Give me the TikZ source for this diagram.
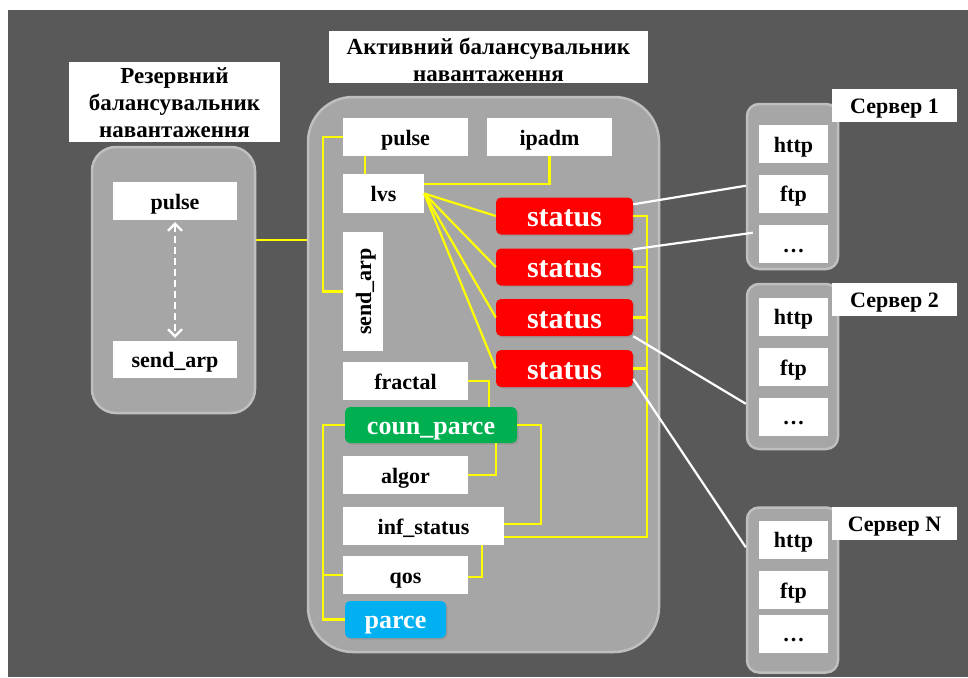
\documentclass[tikz,border=0pt]{standalone}
\usepackage{fontspec}
\setmainfont{Liberation Serif}
\usetikzlibrary{arrows.meta,calc,shadows}

\definecolor{bgdark}{HTML}{595959}
\definecolor{panel}{HTML}{A6A6A6}
\definecolor{panelrim}{HTML}{BFBFBF}
\definecolor{linkyellow}{HTML}{FFFF00}
\definecolor{statred}{HTML}{FF0000}
\definecolor{pgreen}{HTML}{00B050}
\definecolor{pblue}{HTML}{00B0F0}

\begin{document}
\begin{tikzpicture}[x=1pt,y=-1pt,
  sz/.style 2 args={minimum width=#1, minimum height=#2},
  panelbox/.style={fill=panel, draw=panelrim, line width=2.5pt, inner sep=0pt},
  boxfont/.style={font=\bfseries\fontsize{22}{26}\selectfont,
    text height=17pt, text depth=1pt},
  wbox/.style={boxfont, fill=white, inner sep=0pt, text=black},
  titlebox/.style={fill=white, inner sep=0pt},
  titletext/.style={inner sep=0pt, text=black, align=center,
    font=\bfseries\fontsize{23}{27}\selectfont},
  cbox/.style={rounded corners=5pt, inner sep=0pt, text=white,
    drop shadow={shadow xshift=1.5pt, shadow yshift=-1.5pt, opacity=0.35},
    font=\bfseries\fontsize{26}{28}\selectfont, text height=20.5pt, text depth=1pt},
  statbox/.style={cbox, fill=statred, font=\bfseries\fontsize{30}{32}\selectfont,
    text height=22pt, text depth=1pt},
  ylink/.style={draw=linkyellow, line width=2.2pt},
  wlink/.style={draw=white, line width=2.2pt},
  barb/.tip={Straight Barb[length=7pt,width=14pt,line width=2.2pt]},
]
\useasboundingbox (0,0) rectangle (968,677);
\fill[bgdark] (8,10) rectangle (968,677);

% ---------- reserve balancer ----------
\node[titlebox, sz={211pt}{80pt}] (rtitle) at (174.5,102) {};
\node[titletext] at ([yshift=-1pt]rtitle.center)
  {Резервний\\балансувальник\\навантаження};
\node[panelbox, rounded corners=24pt, sz={163pt}{266pt}] (rpanel) at (173.5,280) {};
\node[wbox, sz={124pt}{38pt}] (rpulse) at (175,201) {pulse};
\node[wbox, sz={124pt}{37pt}] (rsend) at (175,359.5) {send\_arp};
\draw[white, line width=2.4pt, dash pattern=on 7pt off 4pt, barb-barb]
  ([yshift=-2pt]rpulse.south) -- ([yshift=3pt]rsend.north);

% ---------- active balancer ----------
\node[titlebox, sz={319pt}{52pt}] (atitle) at (488.5,57) {};
\node[titletext] at ([yshift=-2.5pt]atitle.center)
  {Активний балансувальник\\навантаження};
\node[panelbox, rounded corners=45pt, sz={351pt}{555pt}] (apanel) at (483.5,374.5) {};

\draw[ylink] ([yshift=40pt]rpanel.east) -- ([yshift=40pt]rpanel.east -| apanel.west);

\node[wbox, sz={125pt}{38pt}] (pulse) at (405.5,137) {pulse};
\node[wbox, sz={125pt}{38pt}] (ipadm) at (549.5,137) {ipadm};
\node[wbox, sz={81pt}{39pt}] (lvs) at (383.5,193.5) {lvs};
\node[wbox, sz={40pt}{119pt}] (sendarp) at (363,291.5) {};
\node[boxfont, inner sep=0pt, rotate=90] at (sendarp.center) {send\_arp};
\node[wbox, sz={125pt}{38pt}] (fractal) at (405.5,381) {fractal};
\node[cbox, fill=pgreen, sz={172pt}{36pt}] (counparce) at (431,425) {coun\_parce};
\node[wbox, sz={125pt}{38pt}] (algor) at (405.5,475) {algor};
\node[wbox, sz={161pt}{38pt}] (infstatus) at (423.5,526) {inf\_status};
\node[wbox, sz={125pt}{38pt}] (qos) at (405.5,575) {qos};
\node[cbox, fill=pblue, sz={101pt}{37pt}, text height=19.5pt] (parce) at (395.5,619.5) {parce};

\foreach \i/\y in {1/216,2/267,3/317.5,4/368.5}
  \node[statbox, sz={137pt}{37pt}] (status\i) at (564.5,\y) {status};

% yellow links inside the active balancer
\draw[ylink] (pulse.west) -- ++(-20,0) |- (sendarp.west);
\draw[ylink] ([xshift=22pt]pulse.south west) -- ([xshift=22pt]lvs.north west);
\draw[ylink] (ipadm.south) |- ([yshift=-10pt]lvs.north east);
\foreach \i in {1,...,4}
  \draw[ylink] (lvs.east) -- (status\i.west);
\draw[ylink] (status1.east) -- ++(14,0) coordinate (bus)
  |- ([yshift=-11pt]infstatus.east);
\foreach \i in {2,3,4}
  \draw[ylink] (status\i.east) -- (status\i.east -| bus);
\draw[ylink] (fractal.east) -| ([xshift=144pt]counparce.north west);
\draw[ylink] (counparce.east) -- ++(24,0) |- ([yshift=2pt]infstatus.east);
\draw[ylink] (algor.east) -| ([xshift=151pt]counparce.south west);
\draw[ylink] ([xshift=139pt]infstatus.south west) |- ([yshift=-2pt]qos.east);
\draw[ylink] (counparce.west) -- ++(-22,0) coordinate (lbus) |- (parce.west);
\draw[ylink] (qos.west) -- (qos.west -| lbus);

% ---------- servers ----------
\foreach \n/\cy/\hy/\fy/\dy/\ly/\lab in {
    1/186.5/144/193.5/244/105/Сервер 1,
    2/366.5/316.5/367/416.5/299.5/Сервер 2,
    N/590/539.5/590/633.5/523/Сервер N}{
  \node[panelbox, rounded corners=12pt, sz={91pt}{165pt}] (srv\n) at (792.5,\cy) {};
  \node[wbox, sz={69pt}{38pt}] (http\n) at (793.5,\hy) {http};
  \node[wbox, sz={69pt}{38pt}] (ftp\n) at (793.5,\fy) {ftp};
  \node[wbox, sz={69pt}{38pt}] (etc\n) at (793.5,\dy) {\dots};
  \node[wbox, sz={125pt}{33pt}] (lab\n) at (894.5,\ly) {\lab};
}

% white links from the status monitors to the servers
\draw[wlink] ([yshift=-7pt]status1.north east) -- ([yshift=-83pt]srv1.north west);
\draw[wlink] ([yshift=-1pt]status2.north east) -- ([xshift=7pt,yshift=-130pt]srv1.north west);
\draw[wlink] (status3.south east) -- ([yshift=-121pt]srv2.north west);
\draw[wlink] ([yshift=-29pt]status4.north east) -- ([yshift=-41pt]srvN.north west);
\end{tikzpicture}
\end{document}
